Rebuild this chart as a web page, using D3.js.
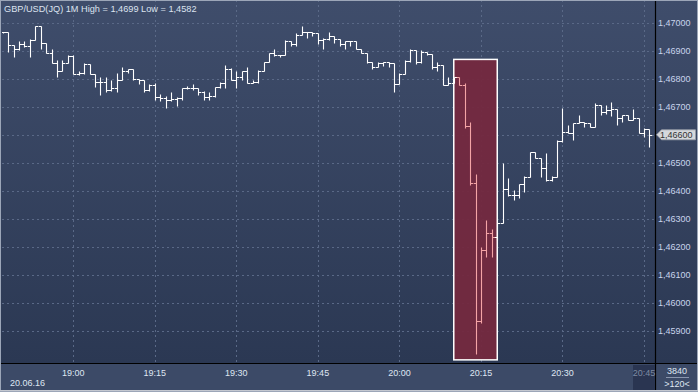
<!DOCTYPE html>
<html><head><meta charset="utf-8">
<script src="https://cdn.jsdelivr.net/npm/d3@7/dist/d3.min.js"></script>
<style>html,body{margin:0;padding:0;background:#2e3b57;}svg{display:block;}</style>
</head><body>
<svg id="chart" width="698" height="392"></svg>
<script>
// ---- data (1-minute OHLC, GBP/USD, 20.06.16, first bar 18:47) ----
const startTime = "2016-06-20T18:47:00";
const opens = [1.46966,1.46966,1.46921,1.46905,1.46924,1.46917,1.46939,1.46989,1.46927,1.46891,1.46855,1.46826,1.46855,1.46882,1.46817,1.46820,1.46853,1.46817,1.46790,1.46790,1.46760,1.46766,1.46794,1.46829,1.46834,1.46798,1.46794,1.46760,1.46778,1.46734,1.46731,1.46725,1.46727,1.46731,1.46766,1.46766,1.46766,1.46754,1.46734,1.46737,1.46770,1.46786,1.46834,1.46796,1.46805,1.46826,1.46786,1.46790,1.46829,1.46858,1.46893,1.46885,1.46885,1.46933,1.46924,1.46957,1.46966,1.46966,1.46962,1.46939,1.46941,1.46951,1.46941,1.46924,1.46936,1.46936,1.46905,1.46893,1.46858,1.46843,1.46855,1.46858,1.46855,1.46782,1.46817,1.46865,1.46903,1.46858,1.46897,1.46889,1.46843,1.46849,1.46778,1.46784,1.46805,1.46778,1.46631,1.46429,1.45937,1.46189,1.46251,1.46237,1.46287,1.46407,1.46385,1.46385,1.46425,1.46451,1.46538,1.46518,1.46481,1.46439,1.46448,1.46579,1.46611,1.46608,1.46641,1.46647,1.46641,1.46629,1.46706,1.46682,1.46689,1.46691,1.46659,1.46671,1.46653,1.46659,1.46605,1.46620];
const highs = [1.46968,1.46966,1.46921,1.46936,1.46936,1.46941,1.46989,1.46989,1.46927,1.46905,1.46867,1.46867,1.46885,1.46885,1.46826,1.46855,1.46853,1.46817,1.46805,1.46805,1.46796,1.46820,1.46843,1.46834,1.46834,1.46798,1.46794,1.46782,1.46784,1.46746,1.46737,1.46754,1.46734,1.46766,1.46775,1.46782,1.46766,1.46758,1.46754,1.46772,1.46790,1.46849,1.46838,1.46826,1.46829,1.46841,1.46796,1.46832,1.46858,1.46893,1.46905,1.46885,1.46939,1.46933,1.46965,1.46989,1.46966,1.46966,1.46965,1.46945,1.46966,1.46951,1.46941,1.46936,1.46936,1.46936,1.46905,1.46893,1.46858,1.46858,1.46858,1.46858,1.46855,1.46820,1.46867,1.46905,1.46903,1.46901,1.46897,1.46889,1.46861,1.46849,1.46805,1.46805,1.46805,1.46784,1.46647,1.46460,1.46199,1.46296,1.46263,1.46287,1.46498,1.46445,1.46403,1.46425,1.46453,1.46540,1.46538,1.46518,1.46535,1.46453,1.46582,1.46695,1.46635,1.46643,1.46671,1.46647,1.46641,1.46712,1.46706,1.46706,1.46718,1.46691,1.46671,1.46671,1.46691,1.46659,1.46623,1.46620];
const lows = [1.46962,1.46897,1.46877,1.46903,1.46915,1.46877,1.46939,1.46905,1.46891,1.46855,1.46805,1.46826,1.46855,1.46817,1.46814,1.46817,1.46817,1.46772,1.46742,1.46754,1.46758,1.46754,1.46794,1.46820,1.46796,1.46782,1.46754,1.46758,1.46725,1.46719,1.46695,1.46722,1.46703,1.46725,1.46763,1.46760,1.46742,1.46725,1.46725,1.46734,1.46766,1.46766,1.46796,1.46766,1.46794,1.46784,1.46784,1.46784,1.46829,1.46858,1.46882,1.46877,1.46885,1.46917,1.46917,1.46957,1.46945,1.46951,1.46924,1.46905,1.46939,1.46929,1.46917,1.46905,1.46917,1.46905,1.46893,1.46855,1.46834,1.46843,1.46846,1.46843,1.46754,1.46782,1.46817,1.46858,1.46853,1.46855,1.46885,1.46834,1.46829,1.46778,1.46778,1.46784,1.46778,1.46623,1.46421,1.45818,1.45930,1.46163,1.46163,1.46225,1.46285,1.46382,1.46368,1.46375,1.46397,1.46451,1.46518,1.46448,1.46436,1.46436,1.46448,1.46575,1.46605,1.46582,1.46641,1.46629,1.46627,1.46629,1.46671,1.46674,1.46667,1.46635,1.46647,1.46653,1.46653,1.46605,1.46593,1.46558];
const closes = [1.46966,1.46921,1.46905,1.46924,1.46917,1.46939,1.46989,1.46927,1.46891,1.46855,1.46826,1.46855,1.46882,1.46817,1.46820,1.46853,1.46817,1.46790,1.46790,1.46760,1.46766,1.46794,1.46829,1.46834,1.46798,1.46794,1.46760,1.46778,1.46734,1.46731,1.46725,1.46727,1.46731,1.46766,1.46766,1.46766,1.46754,1.46734,1.46737,1.46770,1.46786,1.46834,1.46796,1.46805,1.46826,1.46786,1.46790,1.46829,1.46858,1.46893,1.46885,1.46885,1.46933,1.46924,1.46957,1.46966,1.46966,1.46962,1.46939,1.46941,1.46951,1.46941,1.46924,1.46936,1.46936,1.46905,1.46893,1.46858,1.46843,1.46855,1.46858,1.46855,1.46782,1.46817,1.46865,1.46903,1.46858,1.46897,1.46889,1.46843,1.46849,1.46778,1.46784,1.46805,1.46778,1.46631,1.46429,1.45937,1.46189,1.46251,1.46237,1.46287,1.46407,1.46385,1.46385,1.46425,1.46451,1.46538,1.46518,1.46481,1.46439,1.46448,1.46579,1.46611,1.46608,1.46641,1.46647,1.46641,1.46629,1.46706,1.46682,1.46689,1.46691,1.46659,1.46671,1.46653,1.46659,1.46605,1.46620,1.46600];
const priceTicks = [1.459,1.460,1.461,1.462,1.463,1.464,1.465,1.466,1.467,1.468,1.469,1.470];
const timeTicks = ["19:00","19:15","19:30","19:45","20:00","20:15","20:30","20:45"];
const highlightTimes = ["20:10","20:18"];
const highlightPrices = [1.45797,1.46869];
const lastPrice = 1.46600;
const titleText = "GBP/USD(JQ) 1M High = 1,4699 Low = 1,4582";
const dateLabel = "20.06.16";
const cornerTop = "3840", cornerBottom = ">120<";

// ---- layout ----
const W = 698, H = 392, plotL = 2, plotR = 655, plotT = 0, plotB = 363;
const svg = d3.select("#chart");
const day = "2016-06-20T";
const parseT = s => new Date(day + s + ":00");
const t0 = new Date(startTime);
const times = opens.map((_, i) => d3.timeMinute.offset(t0, i));
const bars = times.map((t, i) => ({t, o: opens[i], h: highs[i], l: lows[i], c: closes[i]}));

const x = d3.scaleTime().domain([parseT("19:00"), parseT("20:45")]).range([73.3, 644]);
const y = d3.scaleLinear().domain([1.459, 1.470]).range([331, 22.7]);
const fmt = v => d3.format(".5f")(v).replace(".", ",");

const defs = svg.append("defs");
const g1 = defs.append("linearGradient").attr("id","bg").attr("x1",0).attr("y1",0).attr("x2",0).attr("y2",1);
g1.append("stop").attr("offset","0%").attr("stop-color","#3f4d6b");
g1.append("stop").attr("offset","100%").attr("stop-color","#2b3853");
defs.append("clipPath").attr("id","clip").append("rect")
  .attr("x",plotL).attr("y",plotT).attr("width",plotR-plotL).attr("height",plotB-plotT);

svg.append("rect").attr("width",W).attr("height",plotB).attr("fill","url(#bg)");
svg.append("rect").attr("y",plotB).attr("width",W).attr("height",H-plotB).attr("fill","#3c4a67");

// grid
const grid = svg.append("g").attr("stroke","#5a6987").attr("stroke-dasharray","2,3").attr("stroke-width",1);
priceTicks.forEach(p => {
  const yy = Math.round(y(p)) + 0.5;
  grid.append("line").attr("x1",plotL).attr("x2",plotR).attr("y1",yy).attr("y2",yy);
});
timeTicks.forEach(s => {
  const xx = Math.round(x(parseT(s))) + 0.5;
  grid.append("line").attr("x1",xx).attr("x2",xx).attr("y1",plotT).attr("y2",plotB);
});

// highlight box
const bx0 = x(parseT(highlightTimes[0])), bx1 = x(parseT(highlightTimes[1]));
const by0 = y(highlightPrices[1]), by1 = y(highlightPrices[0]);
svg.append("rect").attr("x",bx0).attr("y",by0).attr("width",bx1-bx0).attr("height",by1-by0)
  .attr("fill","#74293f").attr("fill-opacity",0.95);

// bars
const half = (x(d3.timeMinute.offset(t0,1)) - x(t0)) / 2;
const inBox = d => d.t > parseT(highlightTimes[0]) && d.t < parseT(highlightTimes[1]);
svg.append("g").attr("clip-path","url(#clip)").selectAll("path").data(bars).join("path")
  .attr("fill","none").attr("stroke-width",1.1)
  .attr("stroke", d => inBox(d) ? "#f4a4a6" : "#ffffff")
  .attr("d", d => {
    const cx = Math.round(x(d.t)) + 0.5;
    const yo = Math.round(y(d.o)) + 0.5, yc = Math.round(y(d.c)) + 0.5;
    const yh = Math.round(y(d.h)) + 0.5, yl = Math.round(y(d.l)) + 0.5;
    return `M${cx-half},${yo}H${cx}M${cx},${yh}V${yl}M${cx},${yc}H${cx+half}`;
  });

svg.append("rect").attr("x",bx0).attr("y",by0).attr("width",bx1-bx0).attr("height",by1-by0)
  .attr("fill","none").attr("stroke","#ffffff").attr("stroke-width",1.5);

// axes lines
svg.append("line").attr("x1",0).attr("x2",W).attr("y1",plotB+0.5).attr("y2",plotB+0.5).attr("stroke","#000").attr("stroke-width",1.2);
svg.append("line").attr("x1",plotR+0.5).attr("x2",plotR+0.5).attr("y1",0).attr("y2",H).attr("stroke","#000").attr("stroke-width",1.2);

const font = "'Liberation Sans', Arial, sans-serif";
// price labels (the tick equal to the last price is replaced by the price tag)
svg.append("g").selectAll("text").data(priceTicks.filter(p => Math.abs(p - lastPrice) > 1e-7)).join("text")
  .attr("x",658).attr("y",d => y(d)+3.3).attr("fill","#c9d5ec")
  .attr("font-family",font).attr("font-size","9px").text(fmt);

// last price tag
const ly = y(lastPrice);
svg.append("path").attr("d",`M656.5,${ly}L661.5,${ly-5}H695.5V${ly+5}H661.5Z`)
  .attr("fill","#d6d8dc").attr("stroke","#9aa0aa").attr("stroke-width",0.8);
svg.append("text").attr("x",660).attr("y",ly+3.3).attr("fill","#333").attr("font-family",font)
  .attr("font-size","9px").text(fmt(lastPrice));

// time labels
const lastTick = timeTicks[timeTicks.length-1];
svg.append("rect").attr("x",633).attr("y",365).attr("width",plotR-633).attr("height",25).attr("fill","#2a3551");
svg.append("g").selectAll("text").data(timeTicks).join("text")
  .attr("x",d => x(parseT(d))).attr("y",375.5).attr("text-anchor","middle")
  .attr("fill",d => d === lastTick ? "#7d8aa3" : "#dfe6f2")
  .attr("font-family",font).attr("font-size","9px").text(d => d);
svg.append("text").attr("x",10).attr("y",386).attr("fill","#dfe6f2").attr("font-family",font).attr("font-size","9px").text(dateLabel);

// corner
svg.append("text").attr("x",677).attr("y",373.5).attr("text-anchor","middle").attr("fill","#dfe6f2").attr("font-family",font).attr("font-size","9px").text(cornerTop);
svg.append("line").attr("x1",666).attr("x2",689).attr("y1",377.5).attr("y2",377.5).attr("stroke","#8a96ae");
svg.append("text").attr("x",677).attr("y",386.5).attr("text-anchor","middle").attr("fill","#dfe6f2").attr("font-family",font).attr("font-size","9px").text(cornerBottom);

// title
svg.append("text").attr("x",4).attr("y",12).attr("fill","#dce3ef").attr("font-family",font).attr("font-size","9.2px").text(titleText);

// frame
svg.append("rect").attr("x",0.5).attr("y",0.5).attr("width",W-1).attr("height",H-1).attr("fill","none").attr("stroke","#9ca6b8").attr("stroke-width",1);
svg.append("line").attr("x1",0).attr("x2",W).attr("y1",H-1.5).attr("y2",H-1.5).attr("stroke","#c4c8d0").attr("stroke-width",1);
</script>
</body></html>
